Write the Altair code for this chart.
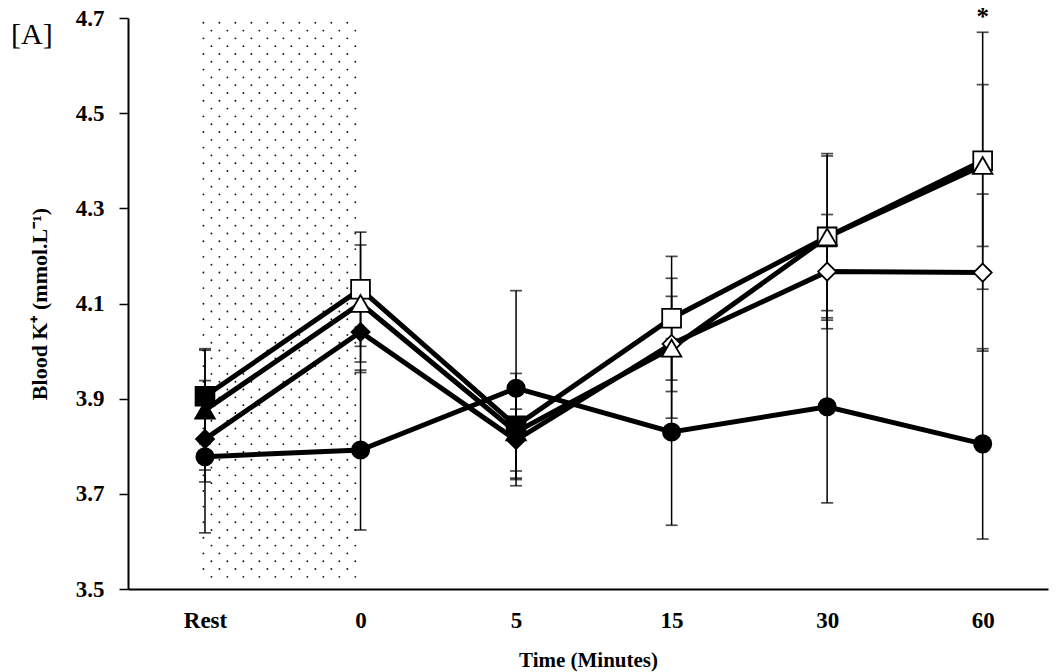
import json
import altair as alt
import numpy as np
import pandas as pd

# ---- data ----
times = ["Rest", "0", "5", "15", "30", "60"]

circle_mean = [3.778, 3.792, 3.922, 3.830, 3.883, 3.805]
circle_sd = [0.160, 0.168, 0.205, 0.196, 0.202, 0.200]
circle_fill = ["solid", "solid", "solid", "solid", "solid", "solid"]

diamond_mean = [3.815, 4.040, 3.813, 4.015, 4.167, 4.165]
diamond_sd = [0.090, 0.085, 0.065, 0.100, 0.120, 0.165]
diamond_fill = ["solid", "solid", "solid", "open", "open", "open"]

square_mean = [3.905, 4.130, 3.843, 4.069, 4.240, 4.400]
square_sd = [0.100, 0.120, 0.110, 0.130, 0.170, 0.270]
square_fill = ["solid", "open", "solid", "open", "open", "open"]

triangle_mean = [3.876, 4.100, 3.830, 4.006, 4.240, 4.390]
triangle_sd = [0.126, 0.123, 0.100, 0.147, 0.175, 0.170]
triangle_fill = ["solid", "open", "solid", "open", "open", "open"]

y_ticks = [3.5, 3.7, 3.9, 4.1, 4.3, 4.5, 4.7]
shaded_span = ["Rest", "0"]
significance = [{"time": "60", "label": "*", "y": 4.727}]
panel_label = ["[A]"]

series_order = ["circle", "diamond", "square", "triangle"]
series = {
    "circle": (circle_mean, circle_sd, circle_fill),
    "diamond": (diamond_mean, diamond_sd, diamond_fill),
    "square": (square_mean, square_sd, square_fill),
    "triangle": (triangle_mean, triangle_sd, triangle_fill),
}

rows = []
for name in series_order:
    means, sds, fills = series[name]
    for i, (m, s, f) in enumerate(zip(means, sds, fills)):
        rows.append({"series": name, "idx": i, "time": times[i], "mean": m,
                     "lo": m - s, "hi": m + s, "fill": f})
df = pd.DataFrame(rows)

ann = pd.DataFrame([{"idx": times.index(a["time"]), "label": a["label"], "y": a["y"]}
                    for a in significance])

# stipple texture for the shaded (pre-exercise) period
x0, x1 = times.index(shaded_span[0]), times.index(shaded_span[1])
dots = []
row_step = 0.0164
col_step = 0.1028
yy = 4.69
r = 0
while yy > 3.51:
    off = (r % 2) * col_step / 2
    xx = x0 - 0.01 + off
    while xx <= x1 + 0.005:
        dots.append({"x": xx, "y": yy})
        xx += col_step
    yy -= row_step
    r += 1
dots = pd.DataFrame(dots)

FONT = "Liberation Serif"

xscale = alt.Scale(domain=[-0.495, 5.42], nice=False, zero=False)
yscale = alt.Scale(domain=[3.5, 4.7], nice=False, zero=False)

label_expr = json.dumps(times) + "[datum.value]"

x_axis = alt.Axis(values=list(range(len(times))), labelExpr=label_expr, ticks=False,
                  domainWidth=2, labelFontSize=23, labelPadding=20,
                  title="Time (Minutes)", titleFontSize=21, titlePadding=17)
y_axis = alt.Axis(values=y_ticks, format=".1f", tickSize=9, tickWidth=1.5, domainWidth=2,
                  labelFontSize=23, labelPadding=15,
                  title="Blood K⁺ (mmol.L⁻¹)", titleFontSize=22, titleX=-89,
                  titleAngle=270, titleBaseline="middle")

stipple = alt.Chart(dots).mark_circle(size=3.5, color="#111", opacity=1).encode(
    x=alt.X("x:Q", scale=xscale, axis=x_axis),
    y=alt.Y("y:Q", scale=yscale, axis=y_axis),
)

base = alt.Chart(df)

err = base.mark_rule(color="black", strokeWidth=1.5).encode(
    x=alt.X("idx:Q", scale=xscale),
    y=alt.Y("lo:Q", scale=yscale),
    y2="hi:Q",
)
cap_lo = base.mark_tick(orient="horizontal", size=12, thickness=1.7, color="black").encode(
    x=alt.X("idx:Q", scale=xscale), y=alt.Y("lo:Q", scale=yscale))
cap_hi = base.mark_tick(orient="horizontal", size=12, thickness=1.7, color="black").encode(
    x=alt.X("idx:Q", scale=xscale), y=alt.Y("hi:Q", scale=yscale))

lines = base.mark_line(color="black", strokeWidth=5).encode(
    x=alt.X("idx:Q", scale=xscale),
    y=alt.Y("mean:Q", scale=yscale),
    detail="series:N",
    order="idx:Q",
)

points = base.mark_point(stroke="black", strokeWidth=1.8, opacity=1, filled=False).encode(
    x=alt.X("idx:Q", scale=xscale),
    y=alt.Y("mean:Q", scale=yscale),
    shape=alt.Shape("series:N", scale=alt.Scale(domain=series_order,
                    range=["circle", "diamond", "square", "triangle-up"]), legend=None),
    size=alt.Size("series:N", scale=alt.Scale(domain=series_order,
                  range=[300, 380, 320, 330]), legend=None),
    fill=alt.Fill("fill:N", scale=alt.Scale(domain=["solid", "open"], range=["black", "white"]),
                  legend=None),
)

star = alt.Chart(ann).mark_text(font=FONT, fontSize=25, fontWeight="bold", color="black",
                                baseline="top").encode(
    x=alt.X("idx:Q", scale=xscale),
    y=alt.Y("y:Q", scale=yscale),
    text="label:N",
)

panel = alt.Chart(pd.DataFrame({"t": panel_label})).mark_text(
    font=FONT, fontSize=30, fontWeight="normal", color="black", align="left", baseline="top"
).encode(text="t:N", x=alt.value(-117), y=alt.value(2))

chart = alt.layer(stipple, err, cap_lo, cap_hi, lines, points, star, panel).properties(
    width=920, height=571,
    autosize=alt.AutoSizeParams(type="none"),
    padding={"left": 128, "top": 18, "right": 11, "bottom": 83},
    background="white",
).configure_axis(
    labelFont=FONT, titleFont=FONT, labelFontWeight="bold", titleFontWeight="bold",
    labelColor="black", titleColor="black", domainColor="black", tickColor="black",
    grid=False,
).configure_view(strokeWidth=0)

chart.save("out.html", embed_options={"renderer": "svg", "actions": False})
